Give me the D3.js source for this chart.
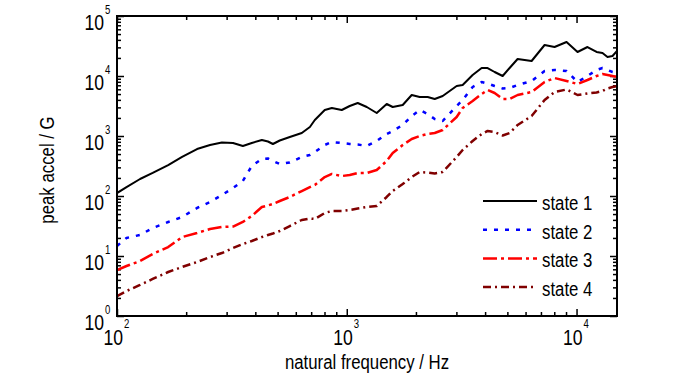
<!DOCTYPE html>
<html>
<head>
<meta charset="utf-8">
<script src="https://cdn.jsdelivr.net/npm/d3@7/dist/d3.min.js"></script>
<style>
body { margin: 0; background: #fff; }
svg { display: block; }
text { font-family: "Liberation Sans", Arial, sans-serif; fill: #000; }
</style>
</head>
<body>
<div id="chart"></div>
<script>
// natural frequency (Hz)
var freq = [100, 110, 126, 143, 167, 192, 223, 254, 286, 320, 353, 386, 427, 454, 477, 511, 565, 637, 691, 726,
	802, 861, 951, 1030, 1116, 1222, 1350, 1492, 1585, 1752, 1917, 2077, 2250, 2414, 2615, 3008, 3194, 3530, 3864, 4102,
	4400, 4769, 5113, 5540, 6374, 7261, 8023, 9047, 10100, 11160, 12220, 12970, 13640, 14340, 15000];
// peak accel (G)
var state1 = [112, 141, 192, 242, 328, 447, 607, 708, 779, 765, 681, 765, 858, 810, 736, 841, 962, 1122, 1413, 1848,
	2712, 2929, 2712, 3162, 3548, 3044, 2418, 3415, 3044, 3286, 4822, 4467, 4467, 4137, 4642, 6813, 7079, 10390, 13590, 13590,
	11660, 10000, 13590, 19200, 17780, 32860, 30430, 36870, 25120, 30430, 25120, 24180, 20730, 21540, 26100];
var state2 = [14.7, 20.0, 22.4, 29.3, 36.9, 44.7, 63.1, 79.4, 104, 136, 178, 316, 414, 422, 383, 341, 362, 447, 482, 541,
	708, 794, 765, 736, 722, 681, 825, 1080, 1212, 1526, 2154, 2712, 2326, 1920, 1778, 3162, 3981, 6554, 7943, 7499,
	6813, 6189, 6310, 7079, 8254, 12120, 12590, 12120, 7943, 10000, 12590, 13590, 12590, 11660, 11220];
var state3 = [5.84, 6.81, 8.25, 10.8, 14.1, 20.7, 24.2, 28.2, 30.4, 31.0, 36.9, 46.4, 65.5, 69.5, 73.6, 82.5, 96.3, 121, 141, 153,
	207, 233, 215, 224, 242, 242, 271, 383, 521, 708, 891, 1000, 1080, 1122, 1259, 2074, 2929, 3831, 5012, 5843,
	5208, 4137, 4137, 4822, 5412, 7943, 9261, 8254, 7356, 8577, 10000, 10790, 10390, 10000, 9626];
var state4 = [2.15, 2.61, 3.29, 4.14, 5.41, 6.56, 7.94, 9.62, 11.2, 13.6, 15.8, 17.8, 20.7, 22.4, 23.7, 26.1, 31.6, 39.8, 42.2, 41.4,
	52.1, 56.2, 56.2, 58.4, 61.9, 65.5, 68.1, 96.3, 121, 158, 207, 251, 246, 237, 251, 447, 584, 825, 1080, 1212,
	1166, 1019, 1122, 1526, 2154, 3981, 5412, 5957, 4822, 5110, 5309, 5623, 6189, 6554, 6813];

var seriesNames = ["state 1", "state 2", "state 3", "state 4"];
var seriesColors = ["#000000", "#0000ff", "#ff0000", "#800000"];
var xTicks = [100, 1000, 10000];
var yTicks = [1, 10, 100, 1000, 10000, 100000];

var W = 700, H = 374;
var ml = 117, mt = 16, pw = 500, ph = 300; // plot box
var FONT_SX = 0.8; // narrow font look

var svg = d3.select("#chart").append("svg").attr("width", W).attr("height", H);

var x = d3.scaleLog().domain([100, 15000]).range([0, pw]);
var y = d3.scaleLog().domain([1, 100000]).range([ph, 0]);

// minor ticks 2..9 of each decade
function minors(lo, hi) {
	var out = [];
	for (var d = lo; d < hi; d *= 10) {
		for (var k = 2; k <= 9; k++) {
			if (d * k <= hi) out.push(d * k);
		}
	}
	return out;
}
var xMinor = minors(100, 15000);
var yMinor = minors(1, 100000);

var plot = svg.append("g").attr("transform", "translate(" + ml + "," + mt + ")");

// clip so the curves stay in the box
plot.append("clipPath").attr("id", "clipBox").append("rect")
	.attr("width", pw).attr("height", ph);

// axes on all four sides, ticks pointing inward
function styleAxis(g) {
	g.select(".domain").remove();
	g.selectAll(".tick line").attr("stroke", "#000").attr("stroke-width", 1.5);
}
var axes = [
	{ ax: d3.axisBottom(x), tr: "translate(0," + ph + ")", maj: xTicks, min: xMinor },
	{ ax: d3.axisTop(x), tr: "translate(0,0)", maj: xTicks, min: xMinor },
	{ ax: d3.axisLeft(y), tr: "translate(0,0)", maj: yTicks, min: yMinor },
	{ ax: d3.axisRight(y), tr: "translate(" + pw + ",0)", maj: yTicks, min: yMinor }
];
axes.forEach(function(a) {
	plot.append("g").attr("transform", a.tr)
		.call(a.ax.tickValues(a.min).tickSize(-4).tickSizeOuter(0).tickFormat(""))
		.call(styleAxis);
	plot.append("g").attr("transform", a.tr)
		.call(a.ax.tickValues(a.maj).tickSize(-7).tickSizeOuter(0).tickFormat(""))
		.call(styleAxis);
});

// lines
var line = d3.line()
	.x(function(d) { return x(d[0]); })
	.y(function(d) { return y(d[1]); });
var series = [state1, state2, state3, state4];
var dashes = [null, "4,7", "14,4,3,4", "8,4,2,4"];
var widths = [2, 2.5, 2.5, 2.5];
var lineG = plot.append("g").attr("clip-path", "url(#clipBox)");
series.forEach(function(s, i) {
	lineG.append("path")
		.datum(freq.map(function(f, j) { return [f, s[j]]; }))
		.attr("d", line)
		.attr("fill", "none")
		.attr("stroke", seriesColors[i])
		.attr("stroke-width", widths[i])
		.attr("stroke-dasharray", dashes[i])
		.attr("stroke-linejoin", "round");
});

// frame
plot.append("rect").attr("width", pw).attr("height", ph)
	.attr("fill", "none").attr("stroke", "#000").attr("stroke-width", 2);

// text helper, narrow look through horizontal scale
function ntext(parent, tx, ty, str, size, anchor) {
	return parent.append("text")
		.attr("transform", "translate(" + tx + "," + ty + ") scale(" + FONT_SX + ",1)")
		.attr("text-anchor", anchor)
		.style("font-size", size + "px")
		.text(str);
}

// y tick labels: 10 with exponent
yTicks.forEach(function(v) {
	var ty = y(v);
	ntext(plot, -13, ty + 14, "10", 22, "end");
	ntext(plot, -12, ty - 2, String(Math.round(Math.log10(v))), 12, "start");
});
// x tick labels
xTicks.forEach(function(v) {
	var tx = x(v);
	ntext(plot, tx + 6, ph + 29, "10", 22, "end");
	ntext(plot, tx + 7, ph + 12, String(Math.round(Math.log10(v))), 12, "start");
});

// axis titles
ntext(svg, ml + pw / 2, 369, "natural frequency / Hz", 21, "middle");
svg.append("text")
	.attr("transform", "translate(54," + (mt + ph / 2 + 4) + ") rotate(-90) scale(" + FONT_SX + ",1)")
	.attr("text-anchor", "middle")
	.style("font-size", "21px")
	.text("peak accel / G");

// legend
var legend = svg.append("g").attr("transform", "translate(483,201)");
seriesNames.forEach(function(name, i) {
	var ly = i * 28.7;
	legend.append("line")
		.attr("x1", 0).attr("x2", 54).attr("y1", ly).attr("y2", ly)
		.attr("stroke", seriesColors[i])
		.attr("stroke-width", widths[i])
		.attr("stroke-dasharray", dashes[i]);
	ntext(legend, 59, ly + 9, name, 21, "start");
});
</script>
</body>
</html>
